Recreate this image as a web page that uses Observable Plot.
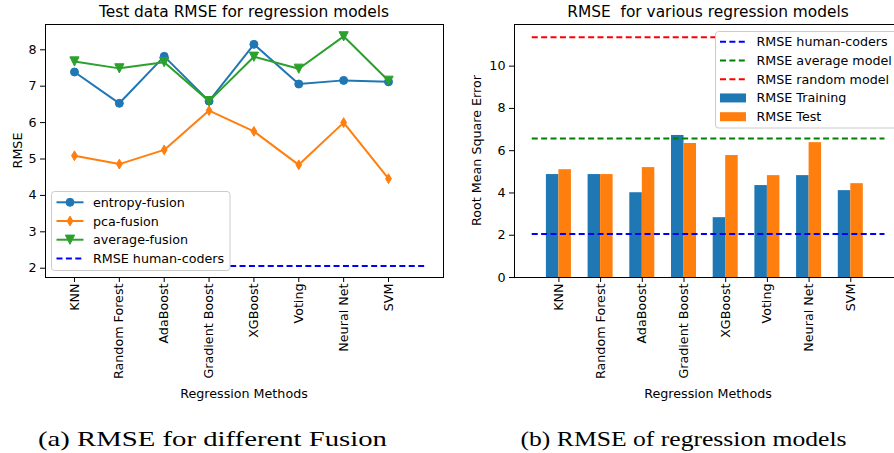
<!DOCTYPE html>
<html><head><meta charset="utf-8">
<script src="https://cdn.jsdelivr.net/npm/d3@7"></script>
<script src="https://cdn.jsdelivr.net/npm/@observablehq/plot@0.6"></script>
<style>
html,body{margin:0;padding:0;background:#fff;overflow:hidden}
#wrap{position:relative;width:894px;height:453px;overflow:hidden;background:#fff}
#wrap > svg, #wrap > figure{position:absolute;top:0;margin:0}
</style></head><body><div id="wrap"></div>
<script>
// ---------- data ----------
const methods = ["KNN","Random Forest","AdaBoost","Gradient Boost","XGBoost","Voting","Neural Net","SVM"];
const seriesNames = ["entropy-fusion","pca-fusion","average-fusion"];
const entropyFusion = [7.39,6.53,7.82,6.59,8.15,7.06,7.16,7.12];
const pcaFusion     = [5.09,4.86,5.25,6.33,5.76,4.84,6.00,4.46];
const averageFusion = [7.68,7.49,7.66,6.59,7.81,7.48,8.37,7.15];
const humanCoders  = 2.06;
const averageModel = 6.58;
const randomModel  = 11.37;
const rmseTraining = [4.87,4.87,4.01,6.72,2.83,4.35,4.82,4.11];
const rmseTest     = [5.10,4.87,5.20,6.34,5.77,4.82,6.38,4.44];
const leftYTicks  = [2,3,4,5,6,7,8];
const rightYTicks = [0,2,4,6,8,10];

const C = {blue:"#1f77b4", orange:"#ff7f0e", green:"#2ca02c", human:"#0000ff", avg:"#008000", rnd:"#ff0000"};
const FONT = "DejaVu Sans";
const FS = 12.7;
const wrap = document.getElementById("wrap");
const idx = methods.map((_, i) => i);

// custom marker symbols
const triDown = {draw(ctx){ const w=4.6, h=4.6; ctx.moveTo(-w,-h); ctx.lineTo(w,-h); ctx.lineTo(0,h); ctx.closePath(); }};
const thinDiamond = {draw(ctx){ const w=2.9, h=4.9; ctx.moveTo(0,-h); ctx.lineTo(w,0); ctx.lineTo(0,h); ctx.lineTo(-w,0); ctx.closePath(); }};
const circ = {draw(ctx){ const r=4.0; ctx.moveTo(r,0); ctx.arc(0,0,r,0,2*Math.PI); }};

const fusion = [
  {name: seriesNames[0], values: entropyFusion, color: C.blue,   symbol: circ},
  {name: seriesNames[1], values: pcaFusion,     color: C.orange, symbol: thinDiamond},
  {name: seriesNames[2], values: averageFusion, color: C.green,  symbol: triDown}
];

const axisStyle = {fontFamily: FONT, fontSize: FS + "px", color: "#000", background: "transparent", overflow: "visible"};

// ---------- left chart ----------
const leftMarks = [
  Plot.ruleY([humanCoders], {x1: -0.5, x2: 7.85, stroke: C.human, strokeWidth: 2, strokeDasharray: "6,3.4"})
];
for (const s of fusion) {
  const rows = s.values.map((v, i) => ({i, v}));
  leftMarks.push(Plot.line(rows, {x: "i", y: "v", stroke: s.color, strokeWidth: 2}));
  leftMarks.push(Plot.dot(rows, {x: "i", y: "v", symbol: s.symbol, fill: s.color, stroke: s.color, strokeWidth: 1}));
}
leftMarks.push(Plot.frame({stroke: "#000", strokeWidth: 1}));
const left = Plot.plot({
  width: 447, height: 400,
  marginTop: 24, marginLeft: 45, marginRight: 4, marginBottom: 123,
  style: axisStyle,
  x: {type: "linear", domain: [-0.646, 8.226], ticks: idx, tickFormat: i => methods[i], tickRotate: -90, tickSize: 5, tickPadding: 1, label: null},
  y: {domain: [1.745, 8.695], ticks: leftYTicks, tickFormat: d => String(d), tickSize: 5, tickPadding: 4, label: null},
  marks: leftMarks
});
left.style.left = "0px";
wrap.appendChild(left);

// ---------- right chart ----------
const bars = methods.map((m, i) => ({i, train: rmseTraining[i], test: rmseTest[i]}));
const refs = [
  {v: humanCoders, color: C.human},
  {v: averageModel, color: C.avg},
  {v: randomModel, color: C.rnd}
];
const right = Plot.plot({
  width: 460, height: 400,
  marginTop: 24, marginLeft: 67, marginRight: 5, marginBottom: 123,
  style: axisStyle,
  x: {type: "linear", domain: [-1.065, 8.24], ticks: idx, tickFormat: i => methods[i], tickRotate: -90, tickSize: 5, tickPadding: 1, label: null},
  y: {domain: [0, 11.97], ticks: rightYTicks, tickFormat: d => String(d), tickSize: 5, tickPadding: 4, label: null},
  marks: [
    Plot.rectY(bars, {x1: d => d.i - 0.3, x2: d => d.i, y: "train", fill: C.blue}),
    Plot.rectY(bars, {x1: d => d.i, x2: d => d.i + 0.3, y: "test", fill: C.orange}),
    Plot.ruleY(refs, {y: "v", x1: -0.64, x2: 7.82, stroke: "color", strokeWidth: 2, strokeDasharray: "6,3.4"}),
    Plot.frame({stroke: "#000", strokeWidth: 1})
  ]
});
right.style.left = "447px";
wrap.appendChild(right);

// ---------- overlay: titles, axis labels, legends, captions ----------
const NS = "http://www.w3.org/2000/svg";
const ov = document.createElementNS(NS, "svg");
ov.setAttribute("width", 894); ov.setAttribute("height", 453);
ov.style.position = "absolute"; ov.style.left = "0px"; ov.style.top = "0px";
wrap.appendChild(ov);
function el(tag, attrs, parent = ov) {
  const e = document.createElementNS(NS, tag);
  for (const k in attrs) e.setAttribute(k, attrs[k]);
  parent.appendChild(e); return e;
}
function txt(s, x, y, opts = {}) {
  const t = el("text", Object.assign({x, y, "font-family": FONT, "font-size": FS, fill: "#000", "text-anchor": "middle"}, opts));
  t.style.whiteSpace = "pre";
  t.textContent = s; return t;
}
// titles
txt("Test data RMSE for regression models", 244, 17, {"font-size": 15.4});
txt("RMSE  for various regression models", 708, 17, {"font-size": 15.4});
// axis labels
txt("Regression Methods", 244, 398);
txt("Regression Methods", 708, 398);
txt("RMSE", 0, 0, {transform: "translate(21.5,150.5) rotate(-90)"});
txt("Root Mean Square Error", 0, 0, {transform: "translate(481,150.5) rotate(-90)"});
// captions
txt("(a) RMSE for different Fusion", 212.5, 446, {"font-family": "Liberation Serif", "font-size": 22, textLength: 349, lengthAdjust: "spacingAndGlyphs"});
txt("(b) RMSE of regression models", 683.5, 446, {"font-family": "Liberation Serif", "font-size": 22, textLength: 326, lengthAdjust: "spacingAndGlyphs"});

// left legend
el("rect", {x: 51.5, y: 191.5, width: 178.5, height: 79, rx: 3, fill: "#fff", stroke: "#cccccc", "stroke-width": 1});
fusion.forEach((s, k) => {
  const y = 202.3 + k * 18.7;
  el("line", {x1: 56.5, x2: 83.5, y1: y, y2: y, stroke: s.color, "stroke-width": 2});
  const p = d3.path(); s.symbol.draw(p);
  el("path", {d: p.toString(), transform: `translate(70,${y})`, fill: s.color, stroke: s.color, "stroke-width": 1});
  txt(s.name, 93, y + 4.5, {"text-anchor": "start"});
});
{
  const y = 202.3 + 3 * 18.7;
  el("line", {x1: 56.5, x2: 83.5, y1: y, y2: y, stroke: C.human, "stroke-width": 2, "stroke-dasharray": "6,3.4"});
  txt("RMSE human-coders", 93, y + 4.5, {"text-anchor": "start"});
}

// right legend
el("rect", {x: 715.5, y: 31.5, width: 200, height: 96.5, rx: 3, fill: "#fff", stroke: "#cccccc", "stroke-width": 1});
const rightLegend = [
  {label: "RMSE human-coders", color: C.human, kind: "line"},
  {label: "RMSE average model", color: C.avg, kind: "line"},
  {label: "RMSE random model", color: C.rnd, kind: "line"},
  {label: "RMSE Training", color: C.blue, kind: "patch"},
  {label: "RMSE Test", color: C.orange, kind: "patch"}
];
rightLegend.forEach((e, k) => {
  const y = 41.7 + k * 18.75;
  if (e.kind === "line") el("line", {x1: 720, x2: 746, y1: y, y2: y, stroke: e.color, "stroke-width": 2, "stroke-dasharray": "6,3.4"});
  else el("rect", {x: 720, y: y - 4.5, width: 26, height: 9, fill: e.color});
  txt(e.label, 756.5, y + 4.5, {"text-anchor": "start"});
});
</script></body></html>
